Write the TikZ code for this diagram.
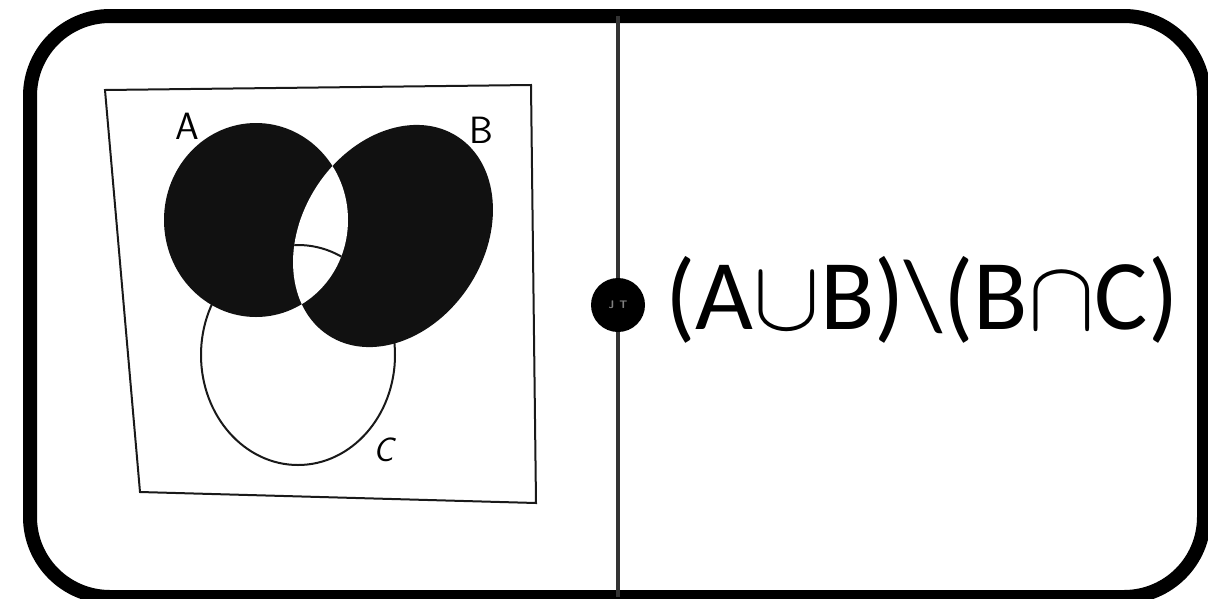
\RequirePackage{fix-cm}
\documentclass[tikz,border=0pt]{standalone}
\usepackage{fontspec}
\setmainfont{Carlito}
\definecolor{ink}{HTML}{111111}
\begin{document}
\begin{tikzpicture}[x=1pt,y=-1pt,
  frame/.style={line width=14pt, rounded corners=80pt, black},
  divider/.style={line width=3.5pt, black!80},
  badge/.style={circle, fill=black, minimum size=54pt, inner sep=0pt, text=black!50,
     font=\sffamily\bfseries\fontsize{11}{11}\selectfont},
  univ/.style={line width=2pt, black!90},
  setline/.style={line width=2pt, black!90},
  venn/.style={fill=ink},
  hand/.style={font=\sffamily\fontsize{38}{38}\selectfont, inner sep=0pt},
  formula/.style={font=\fontsize{100}{108}\selectfont, inner sep=0pt, anchor=base}]
\useasboundingbox (0,0) rectangle (1208,598);
% frame
\draw[frame] (30,16) rectangle (1204,597);
% divider
\coordinate (dtop) at (618,16);
\coordinate (dbot) at (618,597);
\draw[divider] (dtop) -- (dbot);
\node[badge] (jt) at (618,305) {J\hspace{5pt}T};
% universe
\draw[univ] (105,90) -- (531,85) -- (536,503) -- (140,492) -- cycle;
% C outline (under A and B)
\draw[setline] (298,355) ellipse [x radius=97, y radius=110];
% A and B filled
\fill[venn] (256,220) ellipse [x radius=92, y radius=97];
\fill[venn, rotate around={-33:(393,236)}] (393,236) ellipse [x radius=91, y radius=118.5];
% white lens A cap B
\begin{scope}
  \clip (256,220) ellipse [x radius=92, y radius=97];
  \fill[white, rotate around={-33:(393,236)}] (393,236) ellipse [x radius=91, y radius=118.5];
\end{scope}
% C arc inside the lens
\begin{scope}
  \clip (256,220) ellipse [x radius=92, y radius=97];
  \clip[rotate around={-33:(393,236)}] (393,236) ellipse [x radius=91, y radius=118.5];
  \draw[setline] (298,355) ellipse [x radius=97, y radius=110];
\end{scope}
% labels
\node[hand] (la) at (187,126) {A};
\node[hand] (lb) at (481,130) {B};
\node[hand, font=\sffamily\itshape\fontsize{34}{34}\selectfont] (lc) at (384,450) {C};
% formula
\node[formula] (f) at (922,329) {(A$\cup$B)\textbackslash(B$\cap$C)};
\end{tikzpicture}
\end{document}
